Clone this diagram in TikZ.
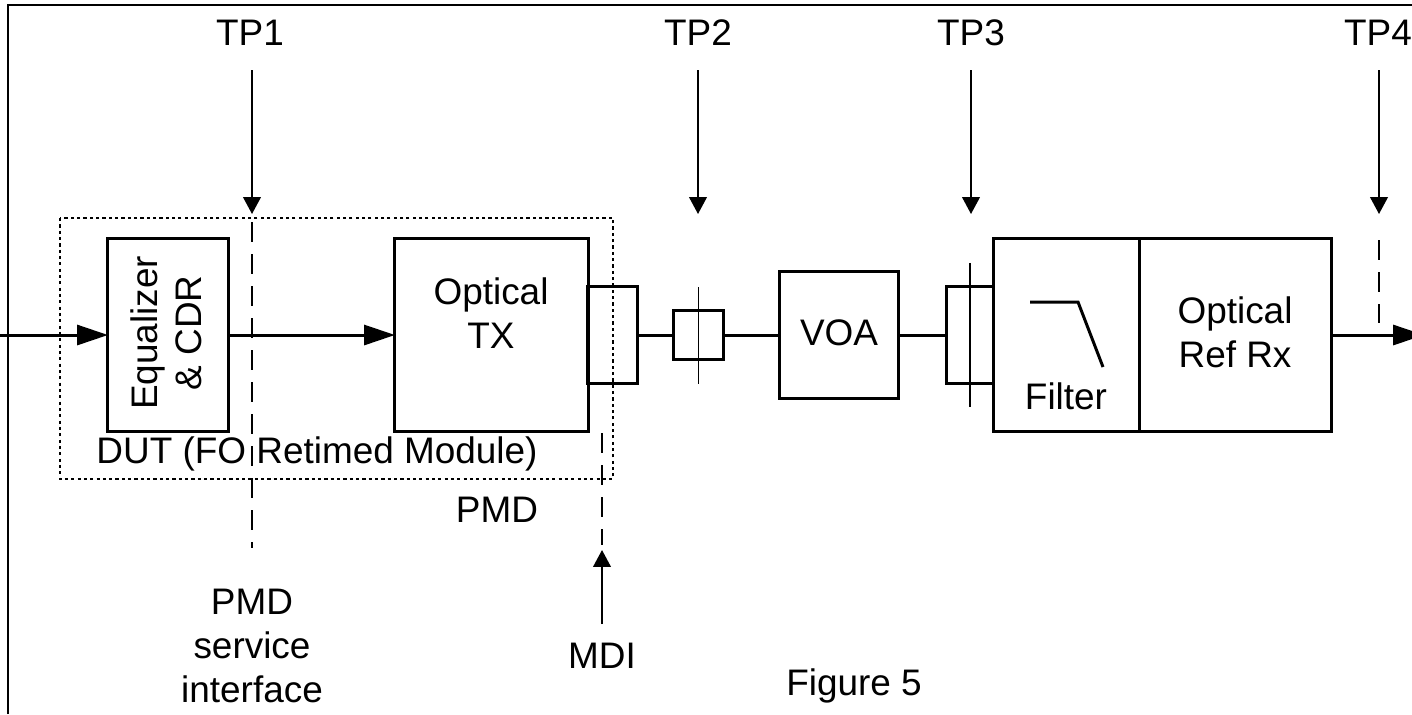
\documentclass[tikz,border=0pt]{standalone}
\usepackage{fontspec}
\setmainfont{Liberation Sans}
\usetikzlibrary{arrows.meta,calc,positioning}

\tikzset{
  blk/.style={draw,line width=0.85pt,inner sep=0pt,outer sep=0pt},
  sig/.style={line width=0.85pt},
  sigarrow/.style={sig,-{Triangle[length=8.8pt,width=5.7pt]}},
  tparrow/.style={line width=0.55pt,-{Triangle[length=4.8pt,width=5pt]}},
  tpdash/.style={line width=0.55pt,dash pattern=on 5.7pt off 3.4pt},
  dutbox/.style={line width=0.5pt,dash pattern=on 0.9pt off 0.9pt},
  txt/.style={font=\fontsize{10.5}{12.6}\selectfont,align=center,inner sep=0pt},
}

\begin{document}
\begin{tikzpicture}[x=0.01cm,y=-0.01cm]
  % 枠
  \useasboundingbox (0,0) rectangle (1412,714);
  \clip (0,0) rectangle (1412,714);
  \draw[line width=0.6pt] (8,714) -- (8,5) -- (1412,5);
  % DUT (点線)
  \draw[dutbox] (60,218) rectangle (613,479);
  \node[txt,anchor=base] (dut) at (317,463) {DUT (FO Retimed Module)};
  % ブロック
  \node[blk,minimum width=1.2cm,minimum height=1.92cm] (eqcdr) at (168,335) {};
  \node[txt,rotate=90] (eqtext) at (166,333) {Equalizer\\\& CDR};
  \node[blk,minimum width=1.93cm,minimum height=1.92cm] (tx) at (491.5,335) {};
  \node[txt] (txtext) at (491,313) {Optical\\TX};
  \node[blk,minimum width=0.49cm,minimum height=0.96cm] (txconn) at (612.5,335) {};
  \node[blk,minimum width=0.49cm,minimum height=0.49cm] (tp2conn) at (698.5,335) {};
  \node[blk,minimum width=1.18cm,minimum height=1.26cm] (voa) at (839,335) {};
  \node[txt,anchor=base] (voatext) at (839,345) {VOA};
  \node[blk,minimum width=1.45cm,minimum height=1.92cm] (filter) at (1066.5,335) {};
  \node[blk,minimum width=0.47cm,minimum height=0.96cm,left=0pt of filter] (tp3conn) {};
  \node[blk,minimum width=1.92cm,minimum height=1.92cm,right=0pt of filter] (refrx) {};
  \node[txt] (rxtext) at (1235,332) {Optical\\Ref Rx};
  % フィルタ記号
  \draw[sig] (1030,302) -- (1078,302) -- (1103,367);
  \node[txt,anchor=base] (filtertext) at (1066,409) {Filter};
  % 信号線
  \coordinate (in) at (0,335);
  \coordinate (out) at (1424,335);
  \draw[sigarrow] (in) -- (eqcdr.west);
  \draw[sigarrow] (eqcdr.east) -- (tx.west);
  \draw[sig] (txconn.east) -- (tp2conn.west);
  \draw[sig] (tp2conn.east) -- (voa.west);
  \draw[sig] (voa.east) -- (tp3conn.west);
  \draw[sigarrow] (refrx.east) -- (out);
  % コネクタの縦線
  \draw[line width=0.55pt] ([yshift=0.23cm]tp2conn.north) -- ([yshift=-0.24cm]tp2conn.south);
  \draw[line width=0.55pt] ([yshift=0.24cm]tp3conn.north) -- ([yshift=-0.24cm]tp3conn.south);
  % 測定点 TP1..TP4
  \foreach \n/\x in {1/250,2/698,3/971,4/1378}{
    \node[txt,anchor=base] (tp\n) at (\x,45) {TP\n};
  }
  \foreach \n/\x in {1/252,2/698,3/971,4/1379}{
    \coordinate (tpa\n) at (\x,70);
    \coordinate (tpb\n) at (\x,214);
    \draw[tparrow] (tpa\n) -- (tpb\n);
  }
  \draw[tpdash] (252,222) -- (252,548);
  \draw[tpdash] (1379,240) -- (1379,323);
  % MDI
  \coordinate (mdia) at (602,624);
  \coordinate (mdib) at (602,550);
  \draw[tpdash] (602,433) -- (602,545);
  \draw[tparrow] (mdia) -- (mdib);
  \node[txt,anchor=base] (mdi) at (602,668) {MDI};
  \node[txt,anchor=base] (pmd) at (497,522) {PMD};
  \node[txt] (psi) at (252,646) {PMD\\service\\interface};
  \node[txt,anchor=base] (fig) at (854,695) {Figure 5};
\end{tikzpicture}
\end{document}
